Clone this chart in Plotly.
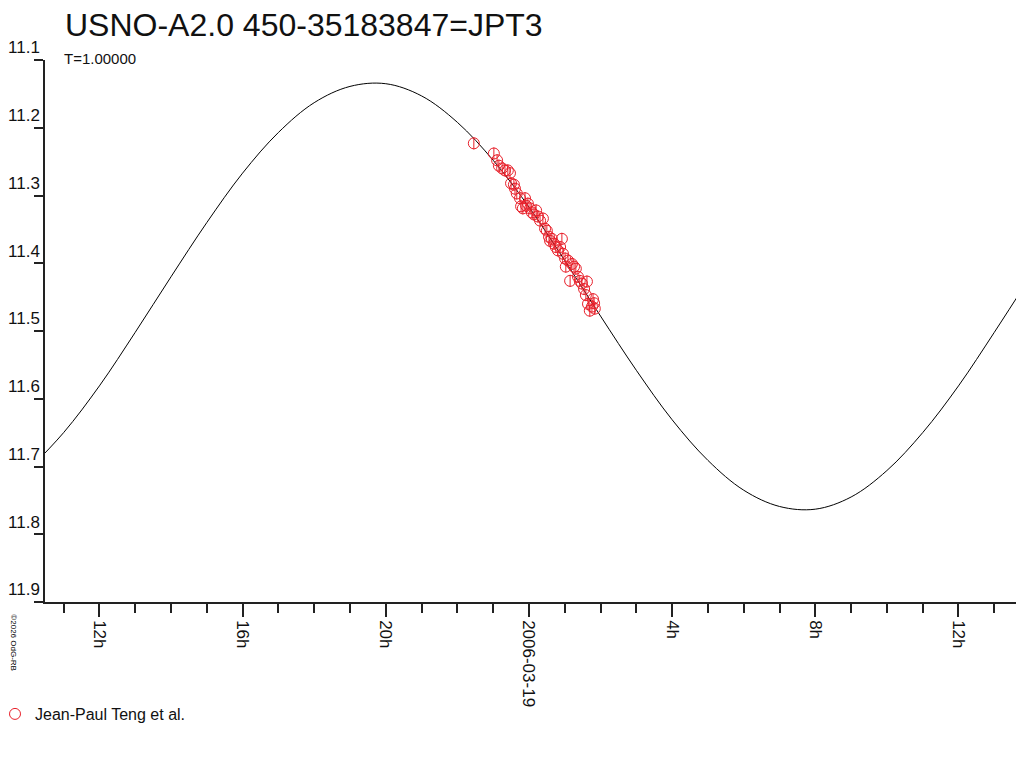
import pandas as pd
import plotly.graph_objects as go

# light curve of USNO-A2.0 450-35183847, times in hours from 2006-03-18 00:00 UT
start = pd.Timestamp("2006-03-18 00:00")

obs_hours = [22.46, 23.02, 23.11, 23.16, 23.25, 23.33, 23.41, 23.47, 23.50, 23.58,
             23.61, 23.66, 23.75, 23.78, 23.83, 23.89, 23.92, 23.97, 24.03, 24.08,
             24.14, 24.20, 24.25, 24.31, 24.39, 24.45, 24.50, 24.56, 24.59, 24.64,
             24.70, 24.75, 24.81, 24.87, 24.92, 24.95, 25.01, 25.03, 25.09, 25.15,
             25.20, 25.26, 25.31, 25.37, 25.42, 25.48, 25.54, 25.59, 25.62, 25.65,
             25.70, 25.76, 25.82, 25.84, 25.79]
obs_mag = [11.223, 11.238, 11.248, 11.256, 11.260, 11.263, 11.263, 11.267, 11.282, 11.284,
           11.290, 11.297, 11.304, 11.316, 11.319, 11.304, 11.315, 11.312, 11.319, 11.325,
           11.328, 11.322, 11.331, 11.337, 11.334, 11.349, 11.352, 11.361, 11.367, 11.364,
           11.371, 11.376, 11.381, 11.376, 11.364, 11.386, 11.393, 11.405, 11.396, 11.426,
           11.401, 11.405, 11.408, 11.420, 11.426, 11.430, 11.438, 11.447, 11.427, 11.460,
           11.470, 11.464, 11.459, 11.467, 11.453]
obs_err = 0.009

# fitted curve (period T=1 day), read hour by hour
fit_hours = list(range(10, 39))
fit_mag = [11.706, 11.650, 11.581, 11.502, 11.420, 11.340, 11.267, 11.207, 11.163, 11.139,
           11.135, 11.153, 11.192, 11.248, 11.317, 11.396, 11.478, 11.558, 11.631, 11.691,
           11.735, 11.759, 11.763, 11.745, 11.706, 11.650, 11.581, 11.502, 11.420]

tick_hours = [12, 16, 20, 24, 28, 32, 36]
tick_text = ["12h", "16h", "20h", "2006-03-19", "4h", "8h", "12h"]
mag_ticks = [11.1, 11.2, 11.3, 11.4, 11.5, 11.6, 11.7, 11.8, 11.9]


def to_time(hours):
    return start + pd.to_timedelta(hours, unit="h")


font = "Arial, Liberation Sans, sans-serif"
axis_col = "#222222"
red = "#e8202a"

fig = go.Figure()
fig.add_trace(go.Scatter(x=to_time(fit_hours), y=fit_mag, mode="lines",
                         line=dict(color="black", width=1, shape="spline"),
                         showlegend=False, hoverinfo="skip"))
fig.add_trace(go.Scatter(x=to_time(obs_hours), y=obs_mag, mode="markers",
                         name="Jean-Paul Teng et al.",
                         marker=dict(symbol="circle-open", size=11, color=red,
                                     line=dict(width=1, color=red)),
                         error_y=dict(type="constant", value=obs_err, width=0,
                                      thickness=1, color=red)))

# page body adds an 8px offset, margins compensate for it
fig.update_layout(
    width=1024, height=768,
    margin=dict(l=37, r=8, t=52, b=174, autoexpand=False),
    paper_bgcolor="white", plot_bgcolor="white",
    font=dict(family=font, size=17, color="#111111"),
    title=dict(text="USNO-A2.0 450-35183847=JPT3", x=57 / 1024, xanchor="left",
               y=1 - 17 / 768, yanchor="middle", pad=dict(l=0, r=0, t=0, b=0),
               font=dict(size=32, color="#111111")),
    legend=dict(xref="paper", yref="paper", x=-50 / 979, y=-112 / 542,
                xanchor="left", yanchor="middle", font=dict(size=16),
                itemwidth=30, bgcolor="rgba(0,0,0,0)"),
    annotations=[
        dict(text="T=1.00000", xref="paper", yref="paper", x=17 / 979, y=1 + 2 / 542,
             xanchor="left", yanchor="middle", showarrow=False, font=dict(size=15)),
        dict(text="©2026 OdG-RB", xref="paper", yref="paper", x=-31 / 979, y=-0.02,
             xanchor="center", yanchor="top", textangle=90, showarrow=False,
             font=dict(size=8, color="black")),
    ],
)

fig.update_xaxes(
    type="date",
    range=[to_time(10.48), to_time(37.83)],
    tickvals=to_time(tick_hours), ticktext=tick_text, tickangle=90,
    ticks="outside", ticklen=13, tickwidth=1.5, tickcolor=axis_col,
    minor=dict(dtick=3600000, tick0="2006-03-18", ticks="outside", ticklen=9,
               tickwidth=1.5, tickcolor=axis_col, showgrid=False),
    showline=True, linecolor=axis_col, linewidth=1.5,
    showgrid=False, zeroline=False, automargin=False,
)
fig.update_yaxes(
    range=[11.9, 11.1],
    tickvals=mag_ticks, tickformat=".1f",
    ticks="outside", ticklen=9, tickwidth=1.5, tickcolor=axis_col,
    ticklabelposition="outside top",
    showline=True, linecolor=axis_col, linewidth=1.5,
    showgrid=False, zeroline=False, automargin=False,
)

fig.write_html("out.html")
